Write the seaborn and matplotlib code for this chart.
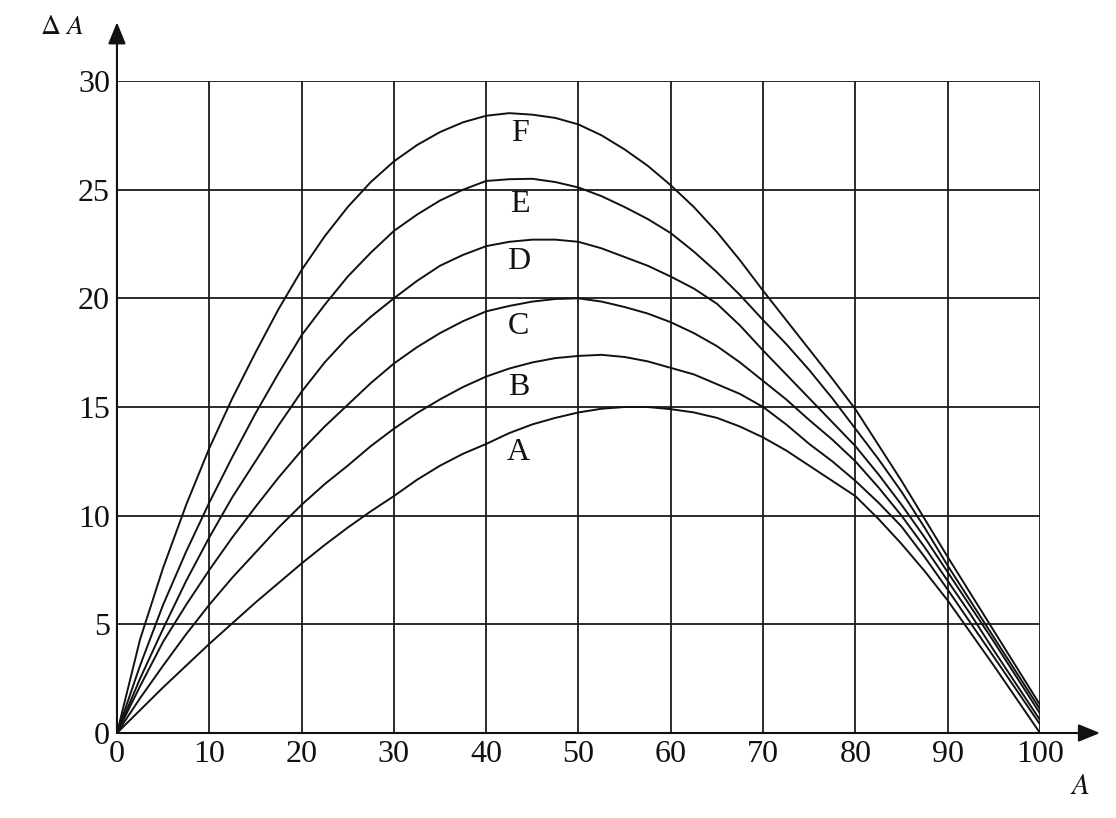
import matplotlib
matplotlib.use('Agg')
import matplotlib.pyplot as plt
import seaborn as sns
import pandas as pd

# A values where the curves were read (every 2.5)
x_vals = [i * 2.5 for i in range(41)]

curve_a = [0, 1.05, 2.1, 3.1, 4.1, 5.05, 6.0, 6.9, 7.8, 8.65, 9.45, 10.2, 10.9, 11.65,
           12.3, 12.85, 13.3, 13.8, 14.2, 14.5, 14.75, 14.92, 15.0, 15.0, 14.9, 14.75,
           14.5, 14.1, 13.6, 13.0, 12.3, 11.6, 10.9, 9.85, 8.7, 7.45, 6.1, 4.6, 3.1,
           1.55, 0.0]
curve_b = [0, 1.6, 3.1, 4.55, 5.9, 7.15, 8.3, 9.45, 10.5, 11.45, 12.3, 13.2, 14.0, 14.72,
           15.35, 15.92, 16.4, 16.77, 17.05, 17.25, 17.35, 17.4, 17.3, 17.1, 16.8, 16.5,
           16.05, 15.6, 15.0, 14.2, 13.3, 12.5, 11.6, 10.6, 9.5, 8.1, 6.6, 5.05, 3.5,
           1.95, 0.4]
curve_c = [0, 2.15, 4.2, 5.9, 7.5, 9.0, 10.4, 11.75, 13.0, 14.1, 15.1, 16.1, 17.0, 17.75,
           18.4, 18.95, 19.4, 19.65, 19.85, 19.97, 20.0, 19.85, 19.6, 19.3, 18.9, 18.4,
           17.8, 17.05, 16.2, 15.35, 14.4, 13.5, 12.5, 11.3, 10.0, 8.55, 7.0, 5.45, 3.8,
           2.2, 0.6]
curve_d = [0, 2.5, 4.8, 7.0, 9.0, 10.85, 12.5, 14.15, 15.7, 17.05, 18.2, 19.15, 20.0, 20.8,
           21.5, 22.0, 22.4, 22.6, 22.7, 22.7, 22.6, 22.3, 21.9, 21.5, 21.0, 20.45,
           19.75, 18.75, 17.6, 16.5, 15.4, 14.3, 13.2, 11.9, 10.5, 9.0, 7.4, 5.8, 4.2,
           2.55, 0.9]
curve_e = [0, 3.1, 5.9, 8.35, 10.6, 12.7, 14.7, 16.55, 18.3, 19.7, 21.0, 22.1, 23.1, 23.85,
           24.5, 25.0, 25.4, 25.48, 25.5, 25.35, 25.1, 24.7, 24.2, 23.65, 23.0, 22.15,
           21.2, 20.15, 19.0, 17.9, 16.7, 15.4, 14.0, 12.6, 11.1, 9.45, 7.7, 6.05, 4.4,
           2.75, 1.1]
curve_f = [0, 4.3, 7.6, 10.5, 13.1, 15.4, 17.5, 19.5, 21.3, 22.85, 24.2, 25.35, 26.3, 27.05,
           27.65, 28.1, 28.4, 28.52, 28.45, 28.3, 28.0, 27.5, 26.85, 26.1, 25.2, 24.2,
           23.05, 21.75, 20.35, 19.0, 17.65, 16.3, 14.9, 13.25, 11.6, 9.85, 8.1, 6.4,
           4.7, 3.0, 1.3]

curve_names = ['A', 'B', 'C', 'D', 'E', 'F']
label_x = [43.5, 43.5, 43.5, 43.5, 43.7, 43.7]
label_y = [12.9, 15.9, 18.7, 21.7, 24.3, 27.6]

x_ticks = list(range(0, 101, 10))
y_ticks = list(range(0, 31, 5))

# long-form table for seaborn
rows = []
for name, ys in zip(curve_names, [curve_a, curve_b, curve_c, curve_d, curve_e, curve_f]):
    for x, y in zip(x_vals, ys):
        rows.append({'A': x, 'dA': y, 'curve': name})
df = pd.DataFrame(rows)

sns.set_theme(style='white')
plt.rcParams['font.family'] = ['Liberation Serif', 'DejaVu Serif']
plt.rcParams['mathtext.fontset'] = 'stix'

fig = plt.figure(figsize=(11.16, 8.18), dpi=100)
ax = fig.add_axes([0.1048, 0.1039, 0.8271, 0.7971])

# grid
for xt in x_ticks[1:]:
    ax.axvline(xt, color='#1a1a1a', linewidth=1.3, zorder=1)
for yt in y_ticks[1:]:
    ax.axhline(yt, color='#1a1a1a', linewidth=1.3, zorder=1)

sns.lineplot(data=df, x='A', y='dA', hue='curve', units='curve', estimator=None,
             palette={n: '#111111' for n in curve_names}, linewidth=1.4,
             legend=False, ax=ax, zorder=3)

for name, lx, ly in zip(curve_names, label_x, label_y):
    ax.text(lx, ly, name, fontsize=23, ha='center', va='center', color='#111111')

ax.set_xlim(0, 100)
ax.set_ylim(0, 30)
ax.set_xticks(x_ticks)
ax.set_yticks(y_ticks)
ax.tick_params(axis='both', length=0, labelsize=23, colors='#111111')
ax.tick_params(axis='x', pad=5)
ax.tick_params(axis='y', pad=5)
ax.set_xlabel('')
ax.set_ylabel('')

for s in ['top', 'right', 'left', 'bottom']:
    ax.spines[s].set_visible(False)

# axes with arrows
ax.annotate('', xy=(1.065, 0), xytext=(0, 0), xycoords='axes fraction',
            arrowprops=dict(arrowstyle='-|>,head_length=1.1,head_width=0.45',
                            color='#111111', lw=1.5, shrinkA=0, shrinkB=0),
            annotation_clip=False)
ax.annotate('', xy=(0, 1.09), xytext=(0, 0), xycoords='axes fraction',
            arrowprops=dict(arrowstyle='-|>,head_length=1.1,head_width=0.45',
                            color='#111111', lw=1.5, shrinkA=0, shrinkB=0),
            annotation_clip=False)

# axis titles
ax.text(-0.083, 1.082, r'$\Delta$ $A$', transform=ax.transAxes, fontsize=20,
        ha='left', va='center', color='#111111')
ax.text(1.043, -0.083, r'$A$', transform=ax.transAxes, fontsize=21,
        ha='center', va='center', color='#111111')

fig.savefig('out.png', dpi=100, facecolor='white')
plt.close(fig)
